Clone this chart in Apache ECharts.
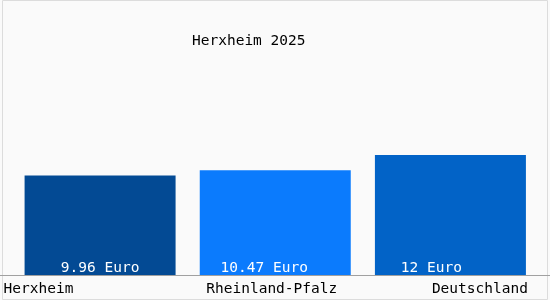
<!DOCTYPE html>
<html>
<head>
<meta charset="utf-8">
<script src="https://cdn.jsdelivr.net/npm/echarts@6/dist/echarts.min.js"></script>
<style>
  html,body{margin:0;padding:0;background:#fafafa;}
  #main{width:550px;height:300px;}
</style>
</head>
<body>
<div id="main"></div>
<script>
var titleText = 'Herxheim 2025';
var regions = ['Herxheim', 'Rheinland-Pfalz', 'Deutschland'];
var values = [9.96, 10.47, 12];
var valueLabels = ['9.96 Euro', '10.47 Euro', '12 Euro'];
var barColors = ['#034a94', '#0b7bfd', '#0263c7'];
// label shift inside the bars (the original does not center them all)
var labelShift = [0, -11, -19];

var myChart = echarts.init(document.getElementById('main'));
var mono = '"DejaVu Sans Mono", "Liberation Mono", monospace';

var barData = [];
for (var i = 0; i < values.length; i++) {
  barData.push({
    value: values[i],
    itemStyle: { color: barColors[i] },
    label: { offset: [labelShift[i], 0] }
  });
}

var option = {
  backgroundColor: '#fafafa',
  animation: false,
  title: {
    text: titleText,
    left: 187,
    top: 29,
    textStyle: { fontFamily: mono, fontSize: 14.5, fontWeight: 'normal', color: '#000' }
  },
  grid: { left: 12.5, right: 12, top: 75, bottom: 25 },
  xAxis: {
    type: 'category',
    data: regions,
    axisLine: { show: false },
    axisTick: { show: false },
    axisLabel: {
      margin: 7,
      fontFamily: mono,
      fontSize: 14.5,
      color: '#000',
      interval: 0,
      formatter: function (v, idx) {
        if (idx === 0) return '{l|' + v + '}';
        if (idx === 2) return '{r|' + v + '}';
        return '{c|' + v + '}';
      },
      rich: {
        l: { width: 193, align: 'left', fontFamily: mono, fontSize: 14.5 },
        c: { width: 140, align: 'center', fontFamily: mono, fontSize: 14.5, padding: [0, 7, 0, 0] },
        r: { width: 155, align: 'right', fontFamily: mono, fontSize: 14.5 }
      }
    }
  },
  yAxis: {
    type: 'value',
    min: 0,
    max: 20,
    show: false
  },
  series: [{
    type: 'bar',
    data: barData,
    barWidth: 151,
    label: {
      show: true,
      position: 'insideBottom',
      distance: -1,
      formatter: function (p) { return valueLabels[p.dataIndex]; },
      fontFamily: mono,
      fontSize: 14.5,
      color: '#fff'
    }
  }],
  graphic: [{
    type: 'rect',
    shape: { x: 2.5, y: 0.5, width: 545, height: 299 },
    style: { fill: null, stroke: '#dcdcdc', lineWidth: 1 },
    silent: true
  }, {
    type: 'line',
    shape: { x1: 0, y1: 275.5, x2: 550, y2: 275.5 },
    style: { stroke: '#a0a0a0', lineWidth: 1 },
    silent: true
  }]
};
myChart.setOption(option);
</script>
</body>
</html>
